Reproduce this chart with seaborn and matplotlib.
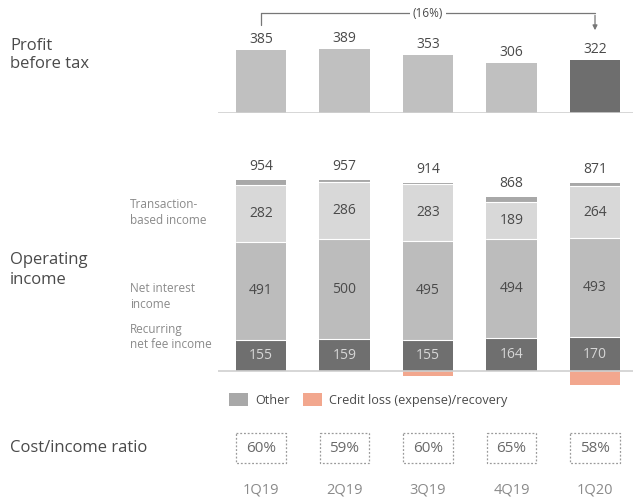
import matplotlib
matplotlib.use("Agg")
import matplotlib.pyplot as plt
import seaborn as sns
import pandas as pd
import numpy as np
from matplotlib.patches import Patch, Rectangle

sns.set_theme(style="white")
plt.rcParams['font.family'] = ['Open Sans', 'DejaVu Sans']

# ---- data ----
quarters = ["1Q19", "2Q19", "3Q19", "4Q19", "1Q20"]
profit_before_tax = [385, 389, 353, 306, 322]
operating_total = [954, 957, 914, 868, 871]
transaction_income = [282, 286, 283, 189, 264]
net_interest_income = [491, 500, 495, 494, 493]
recurring_fee_income = [155, 159, 155, 164, 170]
credit_loss = [0, 0, -27, 0, -70]
other_income = [t - a - b - c - d for t, a, b, c, d in zip(operating_total, transaction_income,
                                                            net_interest_income, recurring_fee_income, credit_loss)]
cost_income_ratio = [60, 59, 60, 65, 58]
pbt_change_label = "(16%)"

# colours
C_PBT = "#c0c0c0"
C_PBT_LAST = "#6e6e6e"
C_TRANS = "#d8d8d8"
C_NII = "#bcbcbc"
C_REC = "#6f6f6f"
C_OTHER = "#a8a8a8"
C_CREDIT = "#f2a78e"
TXT = "#4a4a4a"
LIGHT_TXT = "#8a8a8a"

W, H = 633, 501
fig = plt.figure(figsize=(W / 100, H / 100), dpi=100)

def ax_px(left, right, top, bottom):
    return fig.add_axes([left / W, 1 - bottom / H, (right - left) / W, (bottom - top) / H])

XL = (-0.515, 4.455)
BW = 0.61

df = pd.DataFrame({
    "quarter": quarters,
    "pbt": profit_before_tax,
    "trans": transaction_income,
    "nii": net_interest_income,
    "rec": recurring_fee_income,
    "other": other_income,
    "credit": credit_loss,
    "total": operating_total,
})
df["c_rec"] = df["rec"]
df["c_nii"] = df["c_rec"] + df["nii"]
df["c_trans"] = df["c_nii"] + df["trans"]
df["c_other"] = df["c_trans"] + df["other"]

# ---- top: profit before tax ----
ax1 = ax_px(218, 633, 5, 113)
pal = {q: (C_PBT_LAST if i == len(quarters) - 1 else C_PBT) for i, q in enumerate(quarters)}
sns.barplot(data=df, x="quarter", y="pbt", hue="quarter", palette=pal, order=quarters,
            width=BW, saturation=1, legend=False, ax=ax1, linewidth=0)
ax1.set_xlim(*XL)
ax1.set_ylim(0, 660)
ax1.axhline(0, color="#d0d0d0", lw=1.2)
ax1.axis("off")
for i, v in enumerate(profit_before_tax):
    ax1.text(i, v + 18, f"{v}", ha="center", va="bottom", fontsize=10, color=TXT)
# bracket with change
yb = 611
ax1.plot([0, 0], [540, yb], color="#777777", lw=0.9)
ax1.plot([0, 4], [yb, yb], color="#777777", lw=0.9)
ax1.annotate("", xy=(4, 489), xytext=(4, yb + 3),
             arrowprops=dict(arrowstyle="-|>", color="#777777", lw=0.9, mutation_scale=7))
ax1.text(2, yb, pbt_change_label, ha="center", va="center", fontsize=8.5, color=TXT,
         bbox=dict(boxstyle="square,pad=0.25", fc="white", ec="none"))

# ---- middle: operating income (stacked via overlaid cumulative bars) ----
ax2 = ax_px(218, 633, 150, 390)
for col, colr in [("c_other", C_OTHER), ("c_trans", C_TRANS), ("c_nii", C_NII), ("c_rec", C_REC)]:
    sns.barplot(data=df, x="quarter", y=col, order=quarters, color=colr, width=BW,
                saturation=1, ax=ax2, linewidth=0)
sns.barplot(data=df, x="quarter", y="credit", order=quarters, color=C_CREDIT, width=BW,
            saturation=1, ax=ax2, linewidth=0)
# thin separators between segments
for i in range(len(quarters)):
    for yv in (df["c_rec"][i], df["c_nii"][i], df["c_trans"][i]):
        ax2.plot([i - BW / 2, i + BW / 2], [yv, yv], color="white", lw=0.8)
ax2.set_xlim(*XL)
ax2.set_ylim(-95, 1105)
ax2.axhline(0, color="#d0d0d0", lw=1.2)
ax2.axis("off")
for i in range(len(quarters)):
    ax2.text(i, df["c_other"][i] + 30, f"{operating_total[i]}", ha="center", va="bottom",
             fontsize=10, color=TXT)
    ax2.text(i, (df["c_nii"][i] + df["c_trans"][i]) / 2, f"{transaction_income[i]}",
             ha="center", va="center", fontsize=10, color=TXT)
    ax2.text(i, (df["c_rec"][i] + df["c_nii"][i]) / 2, f"{net_interest_income[i]}",
             ha="center", va="center", fontsize=10, color=TXT)
    ax2.text(i, df["c_rec"][i] / 2, f"{recurring_fee_income[i]}",
             ha="center", va="center", fontsize=10, color="#d6d6d6")

# ---- bottom: cost/income ratio and quarter labels ----
ax3 = ax_px(218, 633, 395, 501)
ax3.set_xlim(*XL)
ax3.set_ylim(501, 395)
ax3.axis("off")
bw_box = 0.59
for i, (q, r) in enumerate(zip(quarters, cost_income_ratio)):
    ax3.add_patch(Rectangle((i - bw_box / 2, 433), bw_box, 30, fill=False, ec="#9a9a9a",
                            lw=0.9, ls=(0, (1.5, 1.5))))
    ax3.text(i, 448, f"{r}%", ha="center", va="center", fontsize=11, color="#6a6a6a")
    ax3.text(i, 490, q, ha="center", va="center", fontsize=10.5, color=LIGHT_TXT)

# ---- left labels ----
def ftext(x, y, s, **kw):
    fig.text(x / W, 1 - y / H, s, **kw)

ftext(10, 55, "Profit\nbefore tax", ha="left", va="center", fontsize=12, color=TXT, linespacing=1.25)
ftext(10, 270, "Operating\nincome", ha="left", va="center", fontsize=12, color=TXT, linespacing=1.25)
ftext(10, 448, "Cost/income ratio", ha="left", va="center", fontsize=12, color=TXT)
ftext(130, 213, "Transaction-\nbased income", ha="left", va="center", fontsize=8.5, color=LIGHT_TXT, linespacing=1.3)
ftext(130, 296, "Net interest\nincome", ha="left", va="center", fontsize=8.5, color=LIGHT_TXT, linespacing=1.3)
ftext(130, 337, "Recurring\nnet fee income", ha="left", va="center", fontsize=8.5, color=LIGHT_TXT, linespacing=1.3)

# ---- legend ----
handles = [Patch(facecolor=C_OTHER, edgecolor="none", label="Other"),
           Patch(facecolor=C_CREDIT, edgecolor="none", label="Credit loss (expense)/recovery")]
fig.legend(handles=handles, loc="center left", bbox_to_anchor=(229 / W, 1 - 400 / H), ncol=2,
           frameon=False, fontsize=9.1, handlelength=1.5, handleheight=1.2, handletextpad=0.55,
           columnspacing=1.1, labelcolor=TXT, borderaxespad=0, borderpad=0)

fig.savefig("out.png", dpi=100)
